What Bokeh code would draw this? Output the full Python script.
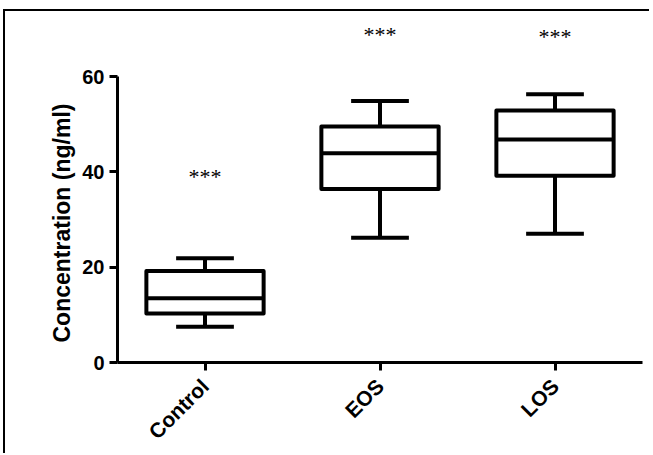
import math
from bokeh.plotting import figure
from bokeh.models import ColumnDataSource, LabelSet, FixedTicker, Range1d, Title
from bokeh.embed import file_html
from bokeh.resources import INLINE

# ---- data ----
categories = ["Control", "EOS", "LOS"]
positions = [0, 1, 2]
whisker_low = [7.5, 26.2, 27.0]
quartile_1 = [10.3, 36.4, 39.2]
medians = [13.5, 43.9, 46.8]
quartile_3 = [19.2, 49.5, 52.9]
whisker_high = [21.9, 54.9, 56.3]
significance = ["***", "***", "***"]
significance_y = [39.0, 68.9, 68.4]
y_ticks = [0, 20, 40, 60]

FONT = "Liberation Sans"
BOX_W = 0.67
CAP_W = 0.33

src = ColumnDataSource(dict(
    x=positions,
    left=[p - BOX_W / 2 for p in positions],
    right=[p + BOX_W / 2 for p in positions],
    cl=[p - CAP_W / 2 for p in positions],
    cr=[p + CAP_W / 2 for p in positions],
    lo=whisker_low, q1=quartile_1, med=medians, q3=quartile_3, hi=whisker_high,
))

p = figure(width=646, height=444, output_backend="svg", toolbar_location=None,
           x_range=Range1d(-0.5, 2.5), y_range=Range1d(0, 71.77),
           min_border_left=112, min_border_right=9, min_border_top=9, min_border_bottom=93,
           background_fill_color="white", border_fill_color="white")
p.styles = {"border-top": "2px solid black", "border-left": "2px solid black",
            "margin-left": "3px", "margin-top": "9px"}
p.outline_line_color = None
p.grid.visible = False

# whiskers
p.segment("x", "q3", "x", "hi", source=src, line_color="black", line_width=4)
p.segment("x", "lo", "x", "q1", source=src, line_color="black", line_width=4)
p.segment("cl", "hi", "cr", "hi", source=src, line_color="black", line_width=4)
p.segment("cl", "lo", "cr", "lo", source=src, line_color="black", line_width=4)
# boxes
p.quad(left="left", right="right", bottom="q1", top="q3", source=src,
       fill_color="white", line_color="black", line_width=4, line_join="round")
p.segment("left", "med", "right", "med", source=src, line_color="black", line_width=4)

# significance marks
star_src = ColumnDataSource(dict(x=positions, y=significance_y, t=significance))
p.add_layout(LabelSet(x="x", y="y", text="t", source=star_src, text_align="center",
                      text_baseline="middle", text_font=FONT, text_font_size="22px",
                      text_color="black"))

# axes
p.xaxis.ticker = FixedTicker(ticks=positions)
p.xaxis.major_label_overrides = {pos: c for pos, c in zip(positions, categories)}
p.xaxis.major_label_orientation = math.pi / 4
p.yaxis.ticker = FixedTicker(ticks=y_ticks)
p.yaxis.bounds = (0, 60)
for ax in (p.xaxis, p.yaxis):
    ax.axis_line_width = 3
    ax.axis_line_color = "black"
    ax.major_tick_line_width = 3
    ax.major_tick_line_color = "black"
    ax.major_tick_out = 8
    ax.major_tick_in = 0
    ax.minor_tick_line_color = None
    ax.major_label_text_font = FONT
    ax.major_label_text_font_style = "bold"
    ax.major_label_text_color = "black"
p.yaxis.major_label_text_font_size = "20px"
p.xaxis.major_label_text_font_size = "21px"
p.yaxis.major_label_standoff = 5
p.xaxis.major_label_standoff = 12

# y-axis title, placed along the 0-60 span of the axis
ytitle = Title(text="Concentration (ng/ml)", align="left", offset=20,
               text_font=FONT, text_font_style="bold", text_font_size="23px",
               text_color="black", standoff=10)
p.add_layout(ytitle, "left")

open("out.html", "w").write(file_html(p, INLINE))
